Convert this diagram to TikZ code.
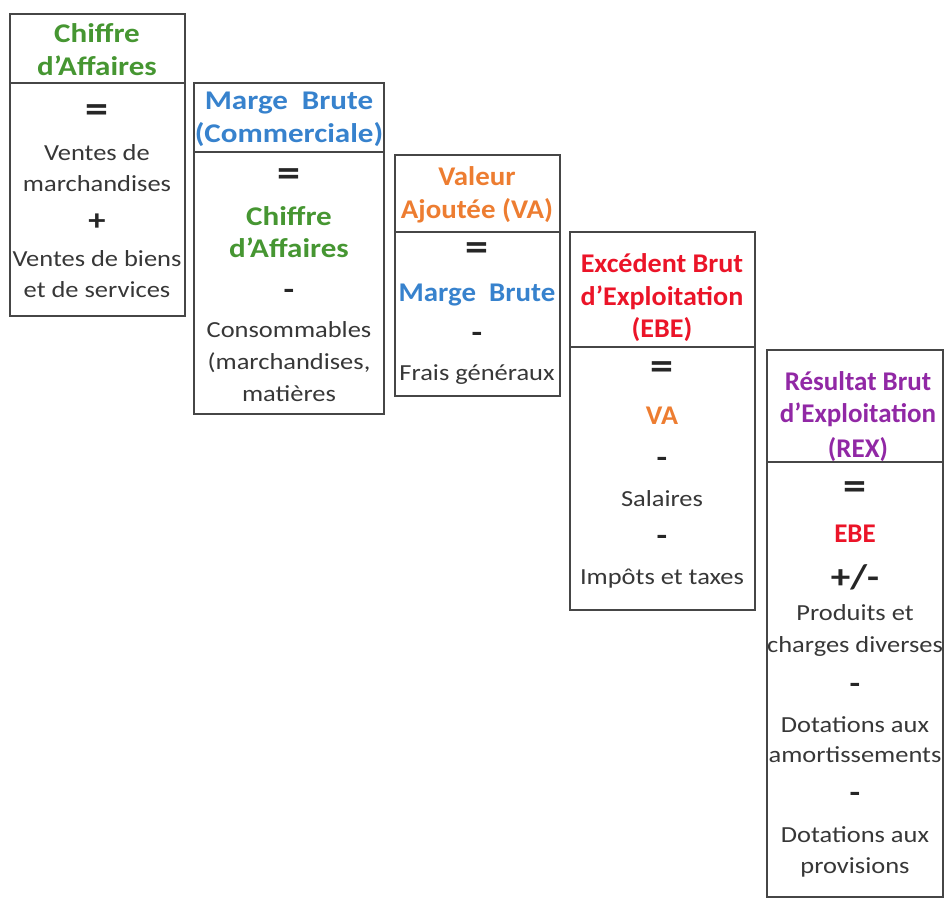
\documentclass[tikz,border=0pt]{standalone}
\usepackage{fontspec}
\setmainfont{Carlito}[FakeStretch=1.15]
\newfontfamily\hdthree{Carlito}[FakeStretch=1.07]
\newfontfamily\hdfour{Carlito}[FakeStretch=1.04]
\newfontfamily\hdfive{Carlito}[FakeStretch=1.0]
\definecolor{cgreen}{RGB}{70,150,50}
\definecolor{cblue}{RGB}{55,130,205}
\definecolor{corange}{RGB}{237,125,49}
\definecolor{cred}{RGB}{235,20,40}
\definecolor{cpurple}{RGB}{145,40,165}
\definecolor{ctext}{RGB}{55,55,55}
\definecolor{cline}{RGB}{70,70,70}
\tikzset{
  boxline/.style={draw=cline, line width=1.4pt},
  hd/.style={font=\fontsize{27}{30}\selectfont\bfseries, text height=0.7em, text depth=0.2em, inner sep=0pt},
  hdc/.style={font=\hdthree\fontsize{27}{30}\selectfont\bfseries, text height=0.7em, text depth=0.2em, inner sep=0pt},
  hdd/.style={font=\hdfour\fontsize{27}{30}\selectfont\bfseries, text height=0.7em, text depth=0.2em, inner sep=0pt},
  hde/.style={font=\hdfive\fontsize{27}{30}\selectfont\bfseries, text height=0.7em, text depth=0.2em, inner sep=0pt},
  bd/.style={font=\fontsize{23}{28}\selectfont, text=ctext, text height=0.7em, text depth=0.2em, inner sep=0pt},
  op/.style={font=\fontsize{30}{32}\selectfont\bfseries, text=black!85, inner sep=0pt},
  eq/.style={font=\fontsize{40}{42}\selectfont\bfseries, text=black!85, inner sep=0pt},
}
\begin{document}
\begin{tikzpicture}[x=1pt,y=-1pt]
\useasboundingbox (0,0) rectangle (944,906);
% box 1
\draw[boxline] (10,14) rectangle (185,316);
\draw[boxline] (10,83) -- (185,83);
\node[hd,text=cgreen] (t1a) at (97,40) {Chiffre};
\node[hd,text=cgreen] (t1b) at (97,73) {d’Affaires};
\node[eq] (t1c) at (97,114) {=};
\node[bd] (t1d) at (97,158) {Ventes de};
\node[bd] (t1e) at (97,189) {marchandises};
\node[op] (t1f) at (97,222) {+};
\node[bd] (t1g) at (97,264) {Ventes de biens};
\node[bd] (t1h) at (97,295) {et de services};
% box 2
\draw[boxline] (194,83) rectangle (384,414);
\draw[boxline] (194,152) -- (384,152);
\node[hd,text=cblue] (t2a) at (289,107) {Marge\ \ Brute};
\node[hd,text=cblue] (t2b) at (289,140) {(Commerciale)};
\node[eq] (t2c) at (289,178) {=};
\node[hd,text=cgreen] (t2d) at (289,223) {Chiffre};
\node[hd,text=cgreen] (t2e) at (289,255) {d’Affaires};
\node[op] (t2f) at (289,294) {-};
\node[bd] (t2g) at (289,335) {Consommables};
\node[bd] (t2h) at (289,367) {(marchandises,};
\node[bd] (t2i) at (289,399) {matières};
% box 3
\draw[boxline] (395,155) rectangle (560,396);
\draw[boxline] (395,232) -- (560,232);
\node[hdc,text=corange] (t3a) at (477,183) {Valeur};
\node[hdc,text=corange] (t3b) at (477,216) {Ajoutée (VA)};
\node[eq] (t3c) at (477,252) {=};
\node[hdc,text=cblue] (t3d) at (477,299) {Marge\ \ Brute};
\node[op] (t3e) at (477,337) {-};
\node[bd] (t3f) at (477,378) {Frais généraux};
% box 4
\draw[boxline] (570,232) rectangle (755,610);
\draw[boxline] (570,347) -- (755,347);
\node[hdd,text=cred] (t4a) at (662,270) {Excédent Brut};
\node[hdd,text=cred] (t4b) at (662,303) {d’Exploitation};
\node[hdd,text=cred] (t4c) at (662,335) {(EBE)};
\node[eq] (t4d) at (662,371) {=};
\node[hdd,text=corange] (t4e) at (662,422) {VA};
\node[op] (t4f) at (662,462) {-};
\node[bd] (t4g) at (662,504) {Salaires};
\node[op] (t4h) at (662,540) {-};
\node[bd] (t4i) at (662,582) {Impôts et taxes};
% box 5
\draw[boxline] (767,350) rectangle (943,897);
\draw[boxline] (767,462) -- (943,462);
\node[hde,text=cpurple] (t5a) at (858,388) {Résultat Brut};
\node[hde,text=cpurple] (t5b) at (858,420) {d’Exploitation};
\node[hde,text=cpurple] (t5c) at (858,455) {(REX)};
\node[eq] (t5d) at (855,491) {=};
\node[hde,text=cred] (t5e) at (855,540) {EBE};
\node[op,font=\fontsize{34}{36}\selectfont\bfseries] (t5f) at (855,577) {+/-};
\node[bd] (t5g) at (855,618) {Produits et};
\node[bd] (t5h) at (855,650) {charges diverses};
\node[op] (t5i) at (855,688) {-};
\node[bd] (t5j) at (855,730) {Dotations aux};
\node[bd] (t5k) at (855,760) {amortissements};
\node[op] (t5l) at (855,797) {-};
\node[bd] (t5m) at (855,840) {Dotations aux};
\node[bd] (t5n) at (855,871) {provisions};
\end{tikzpicture}
\end{document}
